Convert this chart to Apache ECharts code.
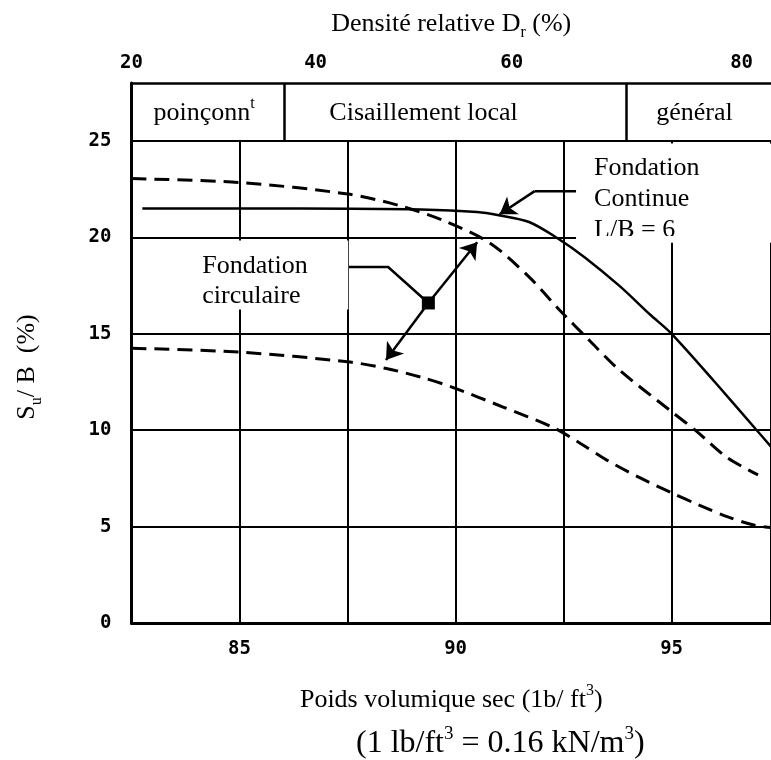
<!DOCTYPE html>
<html>
<head>
<meta charset="utf-8">
<script src="https://cdn.jsdelivr.net/npm/echarts@6/dist/echarts.min.js"></script>
<style>
  html, body { margin: 0; padding: 0; background: #ffffff; }
  #chart { width: 771px; height: 760px; }
</style>
</head>
<body>
<div id="chart"></div>
<script>
// Dry unit weight axis (lb/ft3)
const xMin = 82.5;
const xMax = 97.3;
const xStep = 2.5;
const xTickLabels = [85, 90, 95];

// Settlement ratio axis Su/B (%)
const yMin = 0;
const yMax = 25;
const yStep = 5;

// Relative density scale (top), placed at the matching unit weight
const drLabels = [20, 40, 60, 80];
const drAtUnitWeight = [82.5, 86.76, 91.30, 96.62];

// Failure regimes band
const regimeNames = ['poinçonn{sup|t}', 'Cisaillement local', 'général'];
const regimeCenters = [84.18, 89.26, 95.53];
const regimeBounds = [86.04, 93.96];

// Continuous footing, L/B = 6 (solid)
const continueX = [82.75, 86.4, 89.2, 90.5, 91.0, 91.7, 92.35, 93.0, 93.8, 94.5, 95.0, 96.0, 96.95, 97.3];
const continueY = [21.5, 21.5, 21.45, 21.32, 21.15, 20.8, 19.97, 18.95, 17.47, 16.0, 15.0, 12.5, 10.05, 9.15];

// Circular footing, upper bound (dashed)
const circUpperX = [82.5, 85.0, 87.5, 88.7, 89.8, 90.8, 91.7, 92.4, 93.1, 93.8, 94.95, 95.6, 96.27, 97.0];
const circUpperY = [23.05, 22.85, 22.25, 21.65, 20.8, 19.7, 17.95, 16.25, 14.65, 13.1, 11.05, 9.9, 8.6, 7.68];

// Circular footing, lower bound (dashed)
const circLowerX = [82.5, 85.0, 87.5, 88.4, 89.2, 89.9, 91.1, 92.25, 92.9, 93.5, 94.25, 95.0, 95.65, 96.3, 96.9, 97.3];
const circLowerY = [14.25, 14.05, 13.55, 13.2, 12.75, 12.25, 11.2, 10.15, 9.3, 8.45, 7.55, 6.75, 6.1, 5.5, 5.08, 4.95];

// Callout leaders (unit weight, Su/B)
const continueLeader = [[92.80, 22.4], [91.83, 22.4]];
const continuePointer = [[91.83, 22.4], [91.02, 21.2]];
const circLeader = [[87.5, 18.46], [88.44, 18.46], [89.37, 16.6]];
const circJunction = [89.37, 16.6];
const circToUpper = [[89.37, 16.6], [90.5, 19.75]];
const circToLower = [[89.37, 16.6], [88.39, 13.64]];

// Callout text boxes (top-left corner)
const circNote = [84.08, 19.81];
const continueNote = [92.80, 24.84];

const pair = (xs, ys) => xs.map((x, i) => [x, ys[i]]);

const serif = '"Liberation Serif", "Times New Roman", serif';
const mono = '"DejaVu Sans Mono", "Liberation Mono", monospace';
const black = '#000000';

const richText = {
  base: { fontFamily: serif, fontSize: 26, color: black, lineHeight: 34, fontWeight: 'normal' },
  sub: { fontFamily: serif, fontSize: 16, color: black, lineHeight: 16, verticalAlign: 'bottom', fontWeight: 'normal' },
  sup: { fontFamily: serif, fontSize: 16, color: black, lineHeight: 16, verticalAlign: 'top', fontWeight: 'normal' }
};

const tickFont = { color: black, fontFamily: mono, fontWeight: 'bold', fontSize: 19 };

const chart = echarts.init(document.getElementById('chart'), null, { renderer: 'canvas' });

const option = {
  backgroundColor: '#ffffff',
  animation: false,
  title: {
    text: '{base|(1 lb/ft}{sup|3}{base| = 0.16 kN/m}{sup|3}{base|)}',
    left: 356,
    top: 725,
    padding: 0,
    textStyle: {
      fontWeight: 'normal',
      rich: {
        base: { fontFamily: serif, fontSize: 32, color: black, lineHeight: 38, fontWeight: 'normal' },
        sup: { fontFamily: serif, fontSize: 19, color: black, lineHeight: 18, verticalAlign: 'top', fontWeight: 'normal' }
      }
    }
  },
  grid: [
    { left: 131.5, right: 0, top: 141, bottom: 137, containLabel: false },
    { left: 131.5, right: 0, top: 83, height: 58, containLabel: false }
  ],
  xAxis: [
    {
      gridIndex: 0, type: 'value', position: 'bottom',
      min: xMin, max: xMax, interval: xStep,
      axisLine: { show: true, onZero: false, lineStyle: { color: black, width: 3 } },
      axisTick: { show: false },
      axisLabel: Object.assign({
        margin: 17,
        showMinLabel: true,
        showMaxLabel: false,
        formatter: v => (xTickLabels.indexOf(Math.round(v * 10) / 10) >= 0 ? String(Math.round(v)) : '')
      }, tickFont),
      splitLine: { show: true, lineStyle: { color: black, width: 2 } },
      name: '{base|Poids volumique sec (1b/ ft}{sup|3}{base|)}',
      nameLocation: 'middle',
      nameGap: 60,
      nameTextStyle: { rich: richText }
    },
    {
      gridIndex: 1, type: 'value', position: 'top',
      min: xMin, max: xMax,
      axisLine: { show: true, onZero: false, lineStyle: { color: black, width: 2.5 } },
      axisTick: { show: false },
      axisLabel: Object.assign({
        margin: 10,
        showMinLabel: true,
        showMaxLabel: true,
        customValues: drAtUnitWeight,
        formatter: v => {
          let best = 0;
          drAtUnitWeight.forEach((p, i) => { if (Math.abs(p - v) < Math.abs(drAtUnitWeight[best] - v)) best = i; });
          return String(drLabels[best]);
        }
      }, tickFont),
      splitLine: { show: false },
      name: '{base|Densité relative D}{sub|r}{base| (%)}',
      nameLocation: 'middle',
      nameGap: 42,
      nameTextStyle: { rich: richText }
    }
  ],
  yAxis: [
    {
      gridIndex: 0, type: 'value',
      min: yMin, max: yMax, interval: yStep,
      axisLine: { show: true, onZero: false, lineStyle: { color: black, width: 3 } },
      axisTick: { show: false },
      axisLabel: Object.assign({ margin: 20 }, tickFont),
      splitLine: { show: true, lineStyle: { color: black, width: 2 } },
      name: '{base|S}{sub|u}{base|/ B  (%)}',
      nameLocation: 'middle',
      nameRotate: 90,
      nameGap: 87,
      nameTextStyle: { rich: richText, padding: [0, 0, 0, 30] }
    },
    {
      gridIndex: 1, type: 'value', min: 0, max: 1,
      axisLine: { show: true, onZero: false, lineStyle: { color: black, width: 3 } },
      axisTick: { show: false },
      axisLabel: { show: false },
      splitLine: { show: false }
    }
  ],
  series: [
    {
      name: 'Fondation Continue L/B = 6',
      type: 'line',
      xAxisIndex: 0, yAxisIndex: 0,
      data: pair(continueX, continueY),
      smooth: 0.3,
      showSymbol: false,
      symbol: 'none',
      lineStyle: { color: black, width: 2.5, type: 'solid' },
      z: 3
    },
    {
      name: 'Fondation circulaire (haut)',
      type: 'line',
      xAxisIndex: 0, yAxisIndex: 0,
      data: pair(circUpperX, circUpperY),
      smooth: 0.3,
      showSymbol: false,
      symbol: 'none',
      lineStyle: { color: black, width: 3, type: [15, 8] },
      z: 3
    },
    {
      name: 'Fondation circulaire (bas)',
      type: 'line',
      xAxisIndex: 0, yAxisIndex: 0,
      data: pair(circLowerX, circLowerY),
      smooth: 0.3,
      showSymbol: false,
      symbol: 'none',
      lineStyle: { color: black, width: 3, type: [15, 8] },
      z: 3
    },
    {
      name: 'pointers',
      type: 'lines',
      coordinateSystem: 'cartesian2d',
      xAxisIndex: 0, yAxisIndex: 0,
      polyline: false,
      symbol: ['none', 'arrow'],
      symbolSize: 16,
      lineStyle: { color: black, width: 2.5, opacity: 1, curveness: 0 },
      itemStyle: { color: black, opacity: 1 },
      data: [
        { coords: continuePointer },
        { coords: circToUpper },
        { coords: circToLower }
      ],
      z: 4
    },
    {
      name: 'leaders',
      type: 'lines',
      coordinateSystem: 'cartesian2d',
      xAxisIndex: 0, yAxisIndex: 0,
      polyline: true,
      symbol: ['none', 'none'],
      lineStyle: { color: black, width: 2.5, opacity: 1, curveness: 0 },
      data: [{ coords: circLeader }, { coords: continueLeader }],
      z: 4
    },
    {
      name: 'junction',
      type: 'scatter',
      xAxisIndex: 0, yAxisIndex: 0,
      data: [circJunction],
      symbol: 'rect',
      symbolSize: 13,
      itemStyle: { color: black, opacity: 1 },
      z: 5
    },
    {
      name: 'notes',
      type: 'scatter',
      xAxisIndex: 0, yAxisIndex: 0,
      symbolSize: 1,
      itemStyle: { color: 'rgba(0,0,0,0)', opacity: 1 },
      silent: true,
      z: 6,
      data: [
        {
          value: circNote,
          label: {
            show: true, position: [0, 0], align: 'left', verticalAlign: 'top',
            formatter: 'Fondation\ncirculaire',
            fontFamily: serif, fontSize: 26, lineHeight: 30, color: black, opacity: 1,
            backgroundColor: '#ffffff',
            width: 146, height: 58, padding: [11, 0, 0, 3]
          }
        },
        {
          value: continueNote,
          label: {
            show: true, position: [0, 0], align: 'left', verticalAlign: 'top',
            formatter: 'Fondation\nContinue\nL/B = 6',
            fontFamily: serif, fontSize: 26, lineHeight: 31, color: black, opacity: 1,
            backgroundColor: '#ffffff',
            width: 200, height: 87, padding: [9, 0, 0, 18]
          }
        }
      ]
    },
    {
      name: 'regimes',
      type: 'scatter',
      xAxisIndex: 1, yAxisIndex: 1,
      symbolSize: 1,
      itemStyle: { color: 'rgba(0,0,0,0)', opacity: 1 },
      silent: true,
      data: regimeCenters.map((x, i) => ({ value: [x, 0.5], name: regimeNames[i] })),
      label: {
        show: true, position: 'inside', offset: [0, 1], opacity: 1,
        formatter: p => '{base|' + p.name.replace('{sup|t}', '}{sup|t}{base|') + '}',
        rich: richText
      },
      markLine: {
        silent: true,
        symbol: ['none', 'none'],
        label: { show: false },
        lineStyle: { color: black, width: 2.5, type: 'solid', opacity: 1 },
        data: regimeBounds.map(x => ({ xAxis: x }))
      }
    }
  ]
};

chart.setOption(option);

// Hide the lower part of the last callout line, where the box ends
const maskTop = chart.convertToPixel({ gridIndex: 0 }, [continueNote[0], 20.07]);
const maskBottom = chart.convertToPixel({ gridIndex: 0 }, [xMax, 19.72]);
chart.setOption({
  graphic: [{
    type: 'rect',
    z: 100,
    silent: true,
    shape: {
      x: maskTop[0],
      y: maskTop[1],
      width: maskBottom[0] - maskTop[0] + 2,
      height: maskBottom[1] - maskTop[1]
    },
    style: { fill: '#ffffff' }
  }]
});
</script>
</body>
</html>
